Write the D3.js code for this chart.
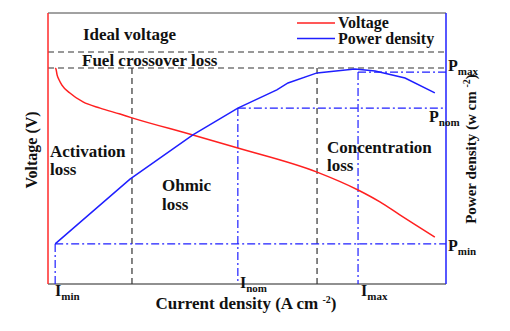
<!DOCTYPE html>
<html>
<head>
<meta charset="utf-8">
<script src="https://cdn.jsdelivr.net/npm/d3@7"></script>
<style>
  body { margin: 0; background: #fff; }
</style>
</head>
<body>
<svg id="chart"></svg>
<script>
// current density (normalised) and voltage
const voltX = [0.018, 0.020, 0.023, 0.028, 0.035, 0.055, 0.088, 0.131, 0.181, 0.211, 0.364, 0.477, 0.676, 0.779, 0.834, 0.884, 0.972];
const voltY = [0.797, 0.793, 0.771, 0.753, 0.734, 0.705, 0.672, 0.649, 0.627, 0.613, 0.550, 0.502, 0.413, 0.347, 0.303, 0.255, 0.173];
// power density curve
const powX = [0.018, 0.206, 0.256, 0.364, 0.477, 0.575, 0.603, 0.676, 0.771, 0.822, 0.897, 0.972];
const powY = [0.148, 0.387, 0.439, 0.550, 0.649, 0.716, 0.742, 0.779, 0.793, 0.786, 0.760, 0.705];

// reference levels
const idealV = 0.856, crossV = 0.797;
const actEnd = 0.211, concStart = 0.676;
const iMin = 0.018, iNom = 0.477, iMax = 0.779;
const pMin = 0.148, pNom = 0.649, pMax = 0.782;

const width = 510, height = 331;
const m = {left: 48, right: 64, top: 13, bottom: 47};

const svg = d3.select("#chart").attr("width", width).attr("height", height)
  .attr("font-family", "'Liberation Serif', 'Times New Roman', 'DejaVu Serif', serif")
  .attr("font-weight", "bold")
  .attr("fill", "#111");

const x = d3.scaleLinear().domain([0, 1]).range([m.left, width - m.right]);
const y = d3.scaleLinear().domain([0, 1]).range([height - m.bottom, m.top]);
const y2 = d3.scaleLinear().domain([0, 1]).range([height - m.bottom, m.top]);

const x0 = x(0), x1 = x(1), yb = y(0), yt = y(1);

// frame
svg.append("line").attr("x1", x0).attr("x2", x1).attr("y1", yt).attr("y2", yt)
  .attr("stroke", "#444").attr("stroke-width", 1);
svg.append("line").attr("x1", x0).attr("x2", x1).attr("y1", yb).attr("y2", yb)
  .attr("stroke", "#222").attr("stroke-width", 1.2);

// black dashed loss boundaries
const dashed = "6,4";
function hline(yy, xa, xb, color, dash) {
  svg.append("line").attr("x1", xa).attr("x2", xb).attr("y1", yy).attr("y2", yy)
    .attr("stroke", color).attr("stroke-width", 1.2).attr("stroke-dasharray", dash);
}
function vline(xx, ya, yb2, color, dash) {
  svg.append("line").attr("x1", xx).attr("x2", xx).attr("y1", ya).attr("y2", yb2)
    .attr("stroke", color).attr("stroke-width", 1.2).attr("stroke-dasharray", dash);
}
hline(y(idealV), x0, x1, "#333", dashed);
hline(y(crossV), x0, x1, "#333", dashed);
vline(x(actEnd), y(crossV), yb, "#333", dashed);
vline(x(concStart), y(crossV), yb, "#333", dashed);

// blue dash-dot power markers
const dashdot = "8,3,2,3";
hline(y2(pMax), x(iMax), x1, "#1f1fff", dashdot);
hline(y2(pNom), x(iNom), x1, "#1f1fff", dashdot);
hline(y2(pMin), x(iMin), x1, "#1f1fff", dashdot);
vline(x(iMax), y2(pMax), yb, "#1f1fff", dashdot);
vline(x(iNom), y2(pNom), yb, "#1f1fff", dashdot);
vline(x(iMin), y2(pMin), yb, "#1f1fff", dashdot);

// side axes
svg.append("line").attr("x1", x0).attr("x2", x0).attr("y1", yt).attr("y2", yb)
  .attr("stroke", "#ff2a2a").attr("stroke-width", 1.5);
svg.append("line").attr("x1", x1).attr("x2", x1).attr("y1", yt).attr("y2", yb)
  .attr("stroke", "#1f1fff").attr("stroke-width", 1.5);

// curves
const voltLine = d3.line().x(d => x(d[0])).y(d => y(d[1])).curve(d3.curveMonotoneX);
const powLine = d3.line().x(d => x(d[0])).y(d => y2(d[1]));
svg.append("path").datum(d3.zip(voltX, voltY)).attr("d", voltLine)
  .attr("fill", "none").attr("stroke", "#ff2020").attr("stroke-width", 1.5);
svg.append("path").datum(d3.zip(powX, powY)).attr("d", powLine)
  .attr("fill", "none").attr("stroke", "#1f1fff").attr("stroke-width", 1.5);

// legend
const legend = [["Voltage", "#ff2020"], ["Power density", "#1f1fff"]];
legend.forEach((d, i) => {
  const ly = 23 + i * 15.5;
  svg.append("line").attr("x1", 297).attr("x2", 335).attr("y1", ly).attr("y2", ly)
    .attr("stroke", d[1]).attr("stroke-width", 1.5);
  svg.append("text").attr("x", 338).attr("y", ly + 5).attr("font-size", 16).text(d[0]);
});

// region labels
function label(tx, ty, s, size) {
  svg.append("text").attr("x", tx).attr("y", ty).attr("font-size", size || 17).text(s);
}
label(83, 40, "Ideal voltage");
label(82, 66, "Fuel crossover loss");
label(50, 157, "Activation");
label(50, 175, "loss");
label(162, 191, "Ohmic");
label(162, 210, "loss");
label(327, 153, "Concentration");
label(327, 171, "loss");

// subscripted markers
function sub(tx, ty, main, s) {
  const t = svg.append("text").attr("x", tx).attr("y", ty).attr("font-size", 16);
  t.append("tspan").text(main);
  t.append("tspan").attr("dy", 4).attr("font-size", 11).text(s);
}
sub(448, 71, "P", "max");
sub(429, 122, "P", "nom");
sub(448, 251, "P", "min");
sub(55, 296, "I", "min");
sub(240, 288, "I", "nom");
sub(361, 296, "I", "max");

// axis titles
const xt = svg.append("text").attr("x", 246).attr("y", 309).attr("text-anchor", "middle").attr("font-size", 17);
xt.append("tspan").text("Current density (A cm ");
xt.append("tspan").attr("dy", -6).attr("font-size", 10).text("-2");
xt.append("tspan").attr("dy", 6).text(")");

svg.append("text").attr("transform", "translate(37,150) rotate(-90)")
  .attr("text-anchor", "middle").attr("font-size", 16).text("Voltage (V)");

const yt2 = svg.append("text").attr("transform", "translate(476,149) rotate(-90)")
  .attr("text-anchor", "middle").attr("font-size", 15);
yt2.append("tspan").text("Power density (w cm ");
yt2.append("tspan").attr("dy", -6).attr("font-size", 10).text("-2");
yt2.append("tspan").attr("dy", 6).text(")");
</script>
</body>
</html>
